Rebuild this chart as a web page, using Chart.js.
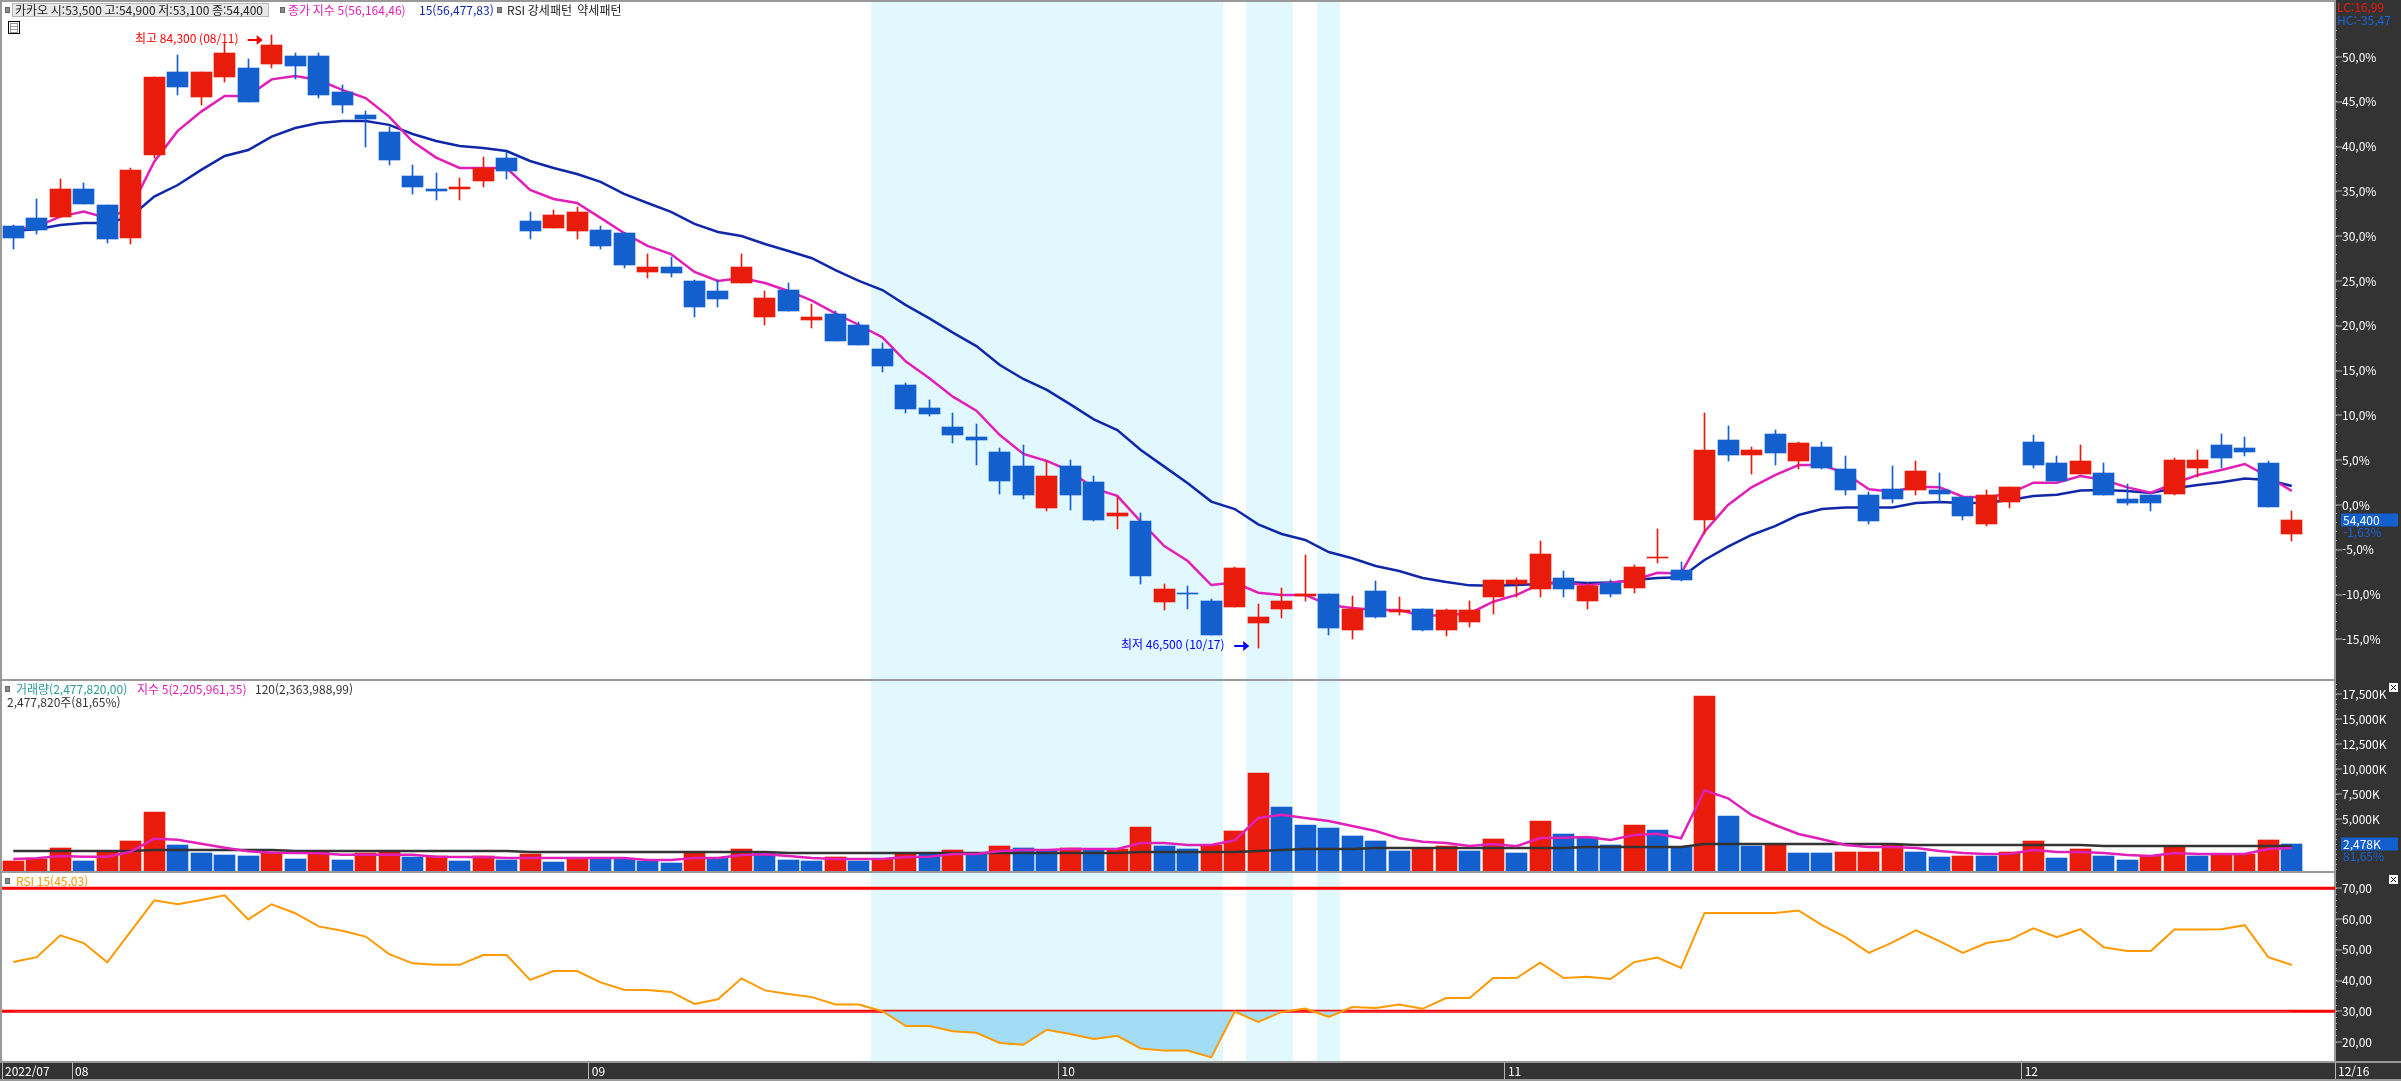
<!DOCTYPE html>
<html lang="ko"><head><meta charset="utf-8"><title>카카오</title>
<style>html,body{margin:0;padding:0;background:#fff}canvas{display:block}</style>
<script src="https://cdn.jsdelivr.net/npm/chart.js@4/dist/chart.umd.js"></script></head>
<body><canvas id="c" width="2401" height="1081"></canvas>
<script>
const BASE_PRICE = 55300;
const opens = [72500,73000,73100,74800,73800,71800,76900,82000,80500,81700,82300,82500,83000,83000,80800,79400,78300,75600,74800,74800,75300,76700,72800,72400,72200,72300,72100,69700,70000,69100,68500,69000,66900,68600,66700,67100,66400,64900,62700,61300,60100,59500,58600,57700,55100,57700,56700,54600,54300,49300,49900,49400,49000,48000,48900,49700,49800,47600,50000,48700,48900,47600,48100,49600,50400,50100,50800,49400,50500,50200,52000,51300,54400,59300,58400,59700,58000,58900,57500,55900,56300,56200,56200,55800,54100,55500,59200,57900,57200,57300,55700,55900,56000,57600,59000,58800,57900,53500];
const highs = [72600,74200,75400,75200,73800,76100,81700,83100,82000,83800,82800,84300,83200,83200,81200,79600,78600,76300,75800,75500,76800,77100,73400,73500,73700,72500,72100,70800,70600,69200,69200,70800,68500,69000,67700,67300,66600,65300,62800,61800,61000,60300,58800,59000,58000,58100,57100,55800,54800,50400,50300,49500,51500,49200,50200,52200,49800,49700,50600,49600,48900,48900,49400,50700,50800,53100,51200,50500,50700,51600,53800,51800,61000,60200,58900,59900,59200,59200,58300,56100,57700,58000,57300,55800,56200,56400,59600,58300,59000,57900,56600,55900,58200,58700,59700,59500,58000,54900];
const lows = [71100,72000,73100,73900,71500,71400,76700,80600,80000,81400,80200,82300,81600,80400,79500,77400,76300,74500,74100,74100,74900,75400,71700,72400,71700,71100,69900,69300,69400,66900,67500,69000,66400,67300,66200,65400,65200,63500,61000,60800,59100,57800,56000,55700,54900,55000,54300,53800,50400,48800,48900,47300,49000,46500,48300,49400,47300,47000,48300,48500,47500,47200,47800,48600,49600,49600,49600,48900,49600,49900,51700,50600,53500,58000,57200,57800,57500,57500,55900,54100,55400,55900,55500,54400,54000,55100,57600,56800,57200,55900,55300,54900,55900,57000,57600,58300,55200,53100];
const closes = [71800,72300,74800,73900,71700,76000,81700,81100,82000,83200,80200,83700,82400,80600,80000,79100,76600,74900,74700,74900,76100,75900,72200,73200,73400,71300,70100,70000,69600,67500,68000,70000,68100,67300,66900,65400,65200,63900,61200,60900,59600,59300,56800,55900,57100,55900,54400,54800,50900,50100,49800,47300,51400,48400,49400,49800,47700,48900,48400,48800,47600,48800,48800,50700,50700,52300,50100,50300,49800,51500,52100,50700,58700,58400,58700,58500,59100,57600,56200,54300,55700,57400,56000,54600,55900,56400,57800,56800,58000,55900,55400,55400,58100,58100,58200,58600,55200,54400];
const priceMa5 = [72280,72480,73100,73410,73000,73610,76490,78390,79580,80550,80550,81570,81780,81530,80920,80420,79270,77730,76740,76100,76100,76100,74740,74190,73940,73020,72090,71290,70790,69680,69130,69310,69000,68510,67910,67130,66410,65650,64150,63120,61990,61120,59620,58450,58020,57400,56330,55860,54270,52770,51840,50360,50510,49890,49750,49750,49130,48940,48820,48820,48450,48510,48610,49330,49750,50420,50510,50340,50510,50670,51120,51080,53650,55300,56390,57150,57770,57770,57260,56270,56120,56430,56390,55810,55770,56020,56680,56680,57090,56840,56390,56060,56640,57150,57460,57830,57050,56164];
const priceMa15 = [72230,72320,72580,72710,72710,73100,74330,75050,75980,76840,77210,78040,78570,78880,79000,79000,78760,78200,77770,77460,77340,77150,76530,76100,75730,75240,74500,73940,73390,72650,72150,71900,71410,70980,70530,69800,69130,68570,67640,66820,65940,65110,63940,63080,62400,61510,60590,59930,58700,57670,56640,55510,55050,54110,53510,53140,52400,52010,51540,51230,50800,50550,50340,50320,50360,50420,50550,50490,50510,50670,50800,50840,51910,52730,53450,54000,54680,55050,55140,55140,55140,55420,55490,55420,55440,55610,55860,55940,56190,56230,56160,56040,56330,56540,56700,56930,56840,56478];
const volumes = [800,1000,2100,800,1700,2800,5700,2400,1600,1400,1300,1700,1000,1700,900,1600,1700,1200,1300,800,1300,900,1500,700,1150,1100,1050,800,600,1600,1100,2000,1570,900,800,1200,800,1000,1500,1490,1900,1500,2300,2100,1900,2100,1900,2000,4200,2300,2000,2400,3800,9600,6200,4400,4100,3300,2800,1800,2100,2300,1800,3000,1600,4800,3500,3230,2400,4400,3900,2200,17300,5300,2300,2500,1600,1590,1700,1710,2400,1700,1200,1300,1290,1700,2800,1100,2000,1300,900,1300,2200,1300,1500,1510,2900,2478];
const volumeMa5 = [1000,1070,1300,1230,1230,1730,3030,2930,2530,2130,1770,1630,1600,1570,1430,1430,1430,1430,1230,1200,1200,1100,1100,1100,1100,1100,1100,900,900,1100,1100,1400,1470,1300,1100,1000,1000,1000,1200,1230,1500,1500,1800,1900,1900,2000,2000,2000,2600,2600,2400,2400,2870,5100,5430,5100,4800,4300,3800,3070,2730,2600,2300,2500,2270,3100,3130,3200,2900,3400,3530,3070,7870,7070,5400,4400,3500,2970,2400,2200,2200,2100,1800,1600,1500,1530,1900,1700,1700,1600,1400,1300,1600,1500,1500,1500,2000,2100];
const volumeMa120 = [1800,1800,1800,1800,1800,1800,1900,1900,1900,1900,1900,1900,1800,1800,1800,1800,1800,1800,1800,1800,1800,1800,1700,1700,1700,1700,1700,1700,1700,1700,1700,1700,1700,1600,1600,1600,1600,1600,1600,1600,1600,1600,1600,1600,1600,1600,1600,1600,1700,1700,1700,1700,1700,1800,1900,2000,2000,2000,2100,2100,2100,2100,2100,2100,2100,2100,2100,2200,2200,2200,2200,2200,2500,2500,2500,2500,2500,2500,2500,2500,2500,2400,2400,2400,2400,2400,2400,2400,2400,2300,2300,2300,2300,2300,2300,2300,2300,2300];
const rsi = [46.0,47.6,54.7,52.2,45.9,56.0,66.1,64.8,66.2,67.7,59.9,64.8,61.9,57.6,56.2,54.3,48.6,45.6,45.1,45.1,48.3,48.3,40.2,43.1,43.1,39.4,37.0,36.9,36.3,32.4,33.9,40.7,36.8,35.6,34.6,32.2,32.2,30.0,25.2,25.2,23.5,23.0,19.7,19.1,24.0,22.6,21.0,22.0,17.9,17.2,17.2,15.0,29.9,26.5,29.8,30.9,28.2,31.4,31.1,32.2,30.8,34.3,34.3,40.8,40.8,45.8,40.8,41.2,40.5,46.0,47.5,44.1,62.0,62.0,62.0,62.0,62.8,58.0,54.1,49.0,52.4,56.3,52.8,49.0,52.2,53.3,57.0,54.1,56.7,50.8,49.6,49.6,56.6,56.6,56.7,58.0,47.6,45.03];
const rsiLevels = [70, 30];
const weakRanges = [[36.5,51.5],[52.5,54.5],[55.5,56.5]];
const monthLabels = ['2022/07','08','09','10','11','12','12/16'];
const monthStarts = [-0.481,2.5,24.5,44.5,63.5,85.5,98.84];
const priceTicks = [53,52,51,50,49,48,47,46,45,44,43,42,41,40,39,38,37,36,35,34,33,32,31,30,29,28,27,26,25,24,23,22,21,20,19,18,17,16,15,14,13,12,11,10,9,8,7,6,5,4,3,2,1,0,-1,-2,-3,-4,-5,-6,-7,-8,-9,-10,-11,-12,-13,-14,-15];
const volumeTicks = [18500,18000,17500,17000,16500,16000,15500,15000,14500,14000,13500,13000,12500,12000,11500,11000,10500,10000,9500,9000,8500,8000,7500,7000,6500,6000,5500,5000,4500,4000,3500,3000,2500,2000,1500,1000,500,0];
const rsiTicks = [72,70,68,66,64,62,60,58,56,54,52,50,48,46,44,42,40,38,36,34,32,30,28,26,24,22,20];

const RED='#e91c0b', BLUE='#135fcd', MAGENTA='#e020b8', NAVY='#1028a8', DARK='#333333', ORANGE='#ff9900', BAND='#e2f8ff', TXT='"Noto Sans CJK KR",sans-serif';
const pct = p => (p/BASE_PRICE-1)*100;
const idx = (arr,f=v=>v) => arr.map((v,i)=>({x:i,y:f(v)}));
const comma = v => v.toLocaleString('en-US');
const XMIN=monthStarts[0], XMAX=monthStarts[monthStarts.length-1];
const candleColors = closes.map((c,i)=> c>=opens[i]?RED:BLUE);
const volColors = volumes.map((v,i)=> (i===0||v>=volumes[i-1])?RED:BLUE);

const bar = (label,yAxisID,data,color,thickness,order,extra={}) => ({type:'bar',label,yAxisID,data,backgroundColor:color,barThickness:thickness,grouped:false,order,minBarLength:1,borderWidth:0,...extra});
const line = (label,yAxisID,data,color,width,order,extra={}) => ({type:'line',label,yAxisID,data,borderColor:color,borderWidth:width,pointRadius:0,tension:0,fill:false,order,...extra});
const noPad = s => {s.paddingTop=0;s.paddingBottom=0;s.paddingLeft=0;s.paddingRight=0;};

const yAxis = (stackWeight,min,max,ticksList,label) => ({
  type:'linear',position:'right',stack:'panels',stackWeight,min,max,
  border:{display:true,color:'#999999',width:2},
  grid:{drawOnChartArea:false,drawTicks:true,tickLength:2,tickColor:'#b0b0b0'},
  ticks:{color:'#ffffff',padding:5,autoSkip:false,font:{family:TXT,size:12},callback:label},
  afterBuildTicks:s=>{s.ticks=ticksList.map(value=>({value}));},
  afterFit:s=>{s.width=66;noPad(s);}
});

const chrome = {
  id:'chrome',
  beforeDraw(c){
    const g=c.ctx,a=c.chartArea,W=c.width,H=c.height,x=c.scales.x;
    g.save();
    g.fillStyle='#fff';g.fillRect(0,0,W,H);
    g.fillStyle=DARK;g.fillRect(a.right,0,W-a.right,H);g.fillRect(0,a.bottom,W,H-a.bottom);
    g.fillStyle=BAND;
    for(const [s,e] of weakRanges){const l=x.getPixelForValue(s),r=x.getPixelForValue(e);g.fillRect(Math.round(l),a.top,Math.round(r)-Math.round(l),a.bottom-a.top);}
    g.restore();
  },
  afterDatasetsUpdate(c){
    c.data.datasets.forEach((d,i)=>{
      if(d.type!=='bar')return;
      for(const el of c.getDatasetMeta(i).data){
        const w=el.width;el.x=Math.round(el.x-w/2)+w/2;el.y=Math.round(el.y);el.base=Math.round(el.base);
      }
    });
  },
  afterDraw(c){
    const g=c.ctx,a=c.chartArea,W=c.width,S=c.scales,x=S.x;
    g.save();
    const rule=(x0,y0,x1,y1,col='#999999',w=1)=>{g.fillStyle=col;if(y0===y1)g.fillRect(x0,y0-w/2,x1-x0,w);else g.fillRect(x0-w/2,y0,w,y1-y0);};
    rule(0,1,a.right,1,'#999999',2);rule(1,0,1,a.bottom,'#999999',2);
    rule(0,S.yp.bottom,a.right,S.yp.bottom,'#999999',2);rule(0,S.yv.bottom,a.right,S.yv.bottom,'#999999',2);
    rule(0,a.bottom,W,a.bottom,'#999999',2);rule(0,1080,W,1080,'#999999',2);
    // longer marks at labelled ticks
    for(const s of [S.yp,S.yv,S.yr]){for(const t of s.ticks){if(t.label){const py=Math.round(s.getPixelForValue(t.value));rule(s.left+1,py,s.left+7,py,'#b0b0b0',1);}}}
    g.textBaseline='middle';g.textAlign='left';g.font='12px '+TXT;
    const text=(t,px,py,col)=>{g.fillStyle=col;g.fillText(t,px,py);};
    const marker=(px,py)=>{g.fillStyle='#8a8a8a';g.fillRect(px,py,5,6);g.strokeStyle='#666';g.lineWidth=1;g.strokeRect(px+.5,py+.5,4,5);};
    // top legend
    marker(5,7);
    g.fillStyle='#e8e8e8';g.fillRect(12,3,257,14);g.strokeStyle='#b8b8b8';g.strokeRect(12.5,3.5,256,13);
    text('카카오 시:53,500 고:54,900 저:53,100 종:54,400',15,10,'#222');
    marker(280,7);
    text('종가 지수 5(56,164,46)',288,10,MAGENTA);
    text('15(56,477,83)',419,10,NAVY);
    marker(497,7);
    text('RSI 강세패턴  약세패턴',507,10,'#222');
    // table icon
    g.fillStyle='#fff';g.strokeStyle='#000';g.strokeRect(8.5,21.5,11,12);g.strokeStyle='#999';
    for(let k=0;k<3;k++){g.strokeRect(10.5,23.5+k*3,7,3);}
    // high / low notes
    const hiX=x.getPixelForValue(11), hiY=S.yp.getPixelForValue(pct(highs[11]));
    text('최고 84,300 (08/11)',135,hiY+3,'#ff0000');
    const arrow=(x0,x1,y,col)=>{g.fillStyle=col;g.fillRect(x0,y-1,x1-x0-5,2);g.beginPath();g.moveTo(x1,y);g.lineTo(x1-6,y-5);g.lineTo(x1-6,y+5);g.closePath();g.fill();};
    arrow(hiX-24,hiX-9,Math.round(hiY+5),'#ff0000');
    const loX=x.getPixelForValue(53), loY=S.yp.getPixelForValue(pct(lows[53]));
    text('최저 46,500 (10/17)',1121,loY-3,'#0000ff');
    arrow(loX-24,loX-9,Math.round(loY-2),'#0000ff');
    // volume legend
    marker(5,686);
    text('거래량(2,477,820,00)',16,689,'#2a9a9a');
    text('지수 5(2,205,961,35)',137,689,MAGENTA);
    text('120(2,363,988,99)',255,689,'#333');
    text('2,477,820주(81,65%)',7,702,'#333');
    // RSI legend
    marker(5,878);
    text('RSI 15(45,03)',16,881,ORANGE);
    // axis corner text
    text('LC:16,99',2337,7,'#f01a0a');
    text('HC:-35,47',2337,20,'#1a62d8');
    // value tags
    const tag=(t,sub,py)=>{g.fillStyle=BLUE;g.fillRect(2341,py-6.5,57,13);text(t,2343,py,'#fff');text(sub,2343,py+12,'#1a62d8');};
    tag('54,400','-1,63%',Math.round(S.yp.getPixelForValue(pct(closes[97]))));
    tag('2,478K','81,65%',Math.round(S.yv.getPixelForValue(volumes[97])));
    // panel close boxes
    for(const py of [687,879]){g.fillStyle='#fff';g.fillRect(2389,py-4,9,9);g.strokeStyle='#000';g.lineWidth=1;g.beginPath();g.moveTo(2391,py-2);g.lineTo(2396,py+3);g.moveTo(2396,py-2);g.lineTo(2391,py+3);g.stroke();}
    g.restore();
  }
};

new Chart(document.getElementById('c'),{
  type:'bar',
  data:{datasets:[
    line('종가 지수 15','yp',idx(priceMa15,pct),NAVY,2.5,5),
    line('종가 지수 5','yp',idx(priceMa5,pct),MAGENTA,2.5,4),
    bar('고저','yp',highs.map((h,i)=>({x:i,y:[pct(lows[i]),pct(h)]})),candleColors,1,3),
    bar('시종','yp',opens.map((o,i)=>({x:i,y:[pct(o),pct(closes[i])]})),candleColors,21,2),
    bar('거래량','yv',idx(volumes),volColors,21,6,{base:-200,minBarLength:0}),
    line('거래량 120','yv',idx(volumeMa120),DARK,2.5,1),
    line('거래량 5','yv',idx(volumeMa5),MAGENTA,2.5,0),
    line('RSI 70','yr',[{x:XMIN,y:rsiLevels[0]},{x:XMAX,y:rsiLevels[0]}],'#ff0000',3,1),
    line('RSI 30','yr',[{x:XMIN,y:rsiLevels[1]},{x:XMAX,y:rsiLevels[1]}],'#ff0000',3,1),
    line('RSI 15','yr',idx(rsi),ORANGE,2,0,{fill:{target:{value:rsiLevels[1]},above:'rgba(0,0,0,0)',below:'#a3ddf5'}})
  ]},
  options:{
    responsive:false,animation:false,devicePixelRatio:1,events:[],
    layout:{padding:{left:2,top:1,right:0,bottom:0}},
    plugins:{legend:{display:false},tooltip:{enabled:false},title:{display:false}},
    scales:{
      x:{type:'linear',position:'bottom',min:XMIN,max:XMAX,offset:false,
        grid:{drawOnChartArea:false,drawTicks:true,tickLength:18,tickColor:'#b8b8b8',offset:false},
        border:{display:false},
        ticks:{color:'#fff',align:'start',padding:-16,labelOffset:3,autoSkip:false,maxRotation:0,minRotation:0,font:{family:TXT,size:12},callback:(v,i)=>monthLabels[i]},
        afterBuildTicks:s=>{s.ticks=monthStarts.map(value=>({value}));},
        afterFit:s=>{s.height=19;noPad(s);}
      },
      yp:yAxis(679,-19.53,56.25,priceTicks,v=>(v%5===0)?v.toFixed(1).replace('.',',')+'%':''),
      yv:yAxis(192,-300,18900,volumeTicks,v=>(v%2500===0&&v>=5000)?comma(v)+'K':''),
      yr:yAxis(190,13.5,75.3,rsiTicks,v=>(v%10===0&&v<=70)?v.toFixed(2).replace('.',','):'')
    }
  },
  plugins:[chrome]
});
</script></body></html>
